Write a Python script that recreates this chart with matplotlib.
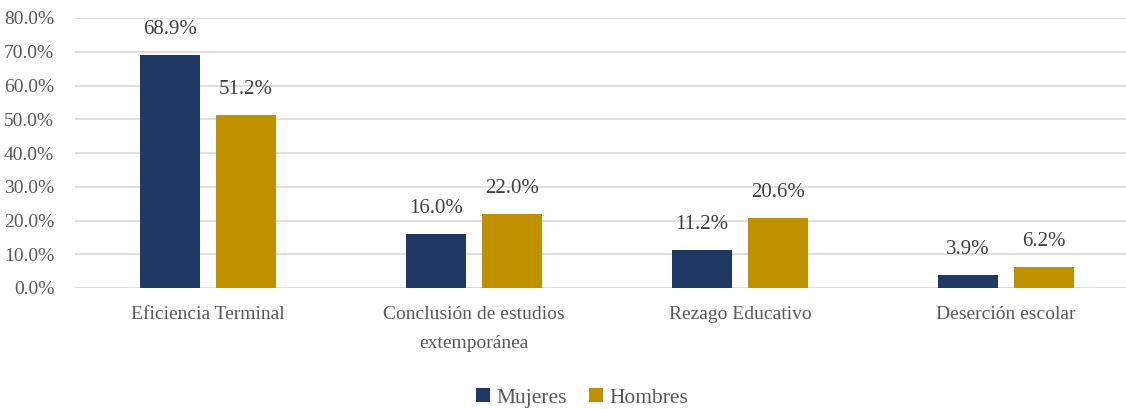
import matplotlib.pyplot as plt
import numpy as np

categories = ["Eficiencia Terminal", "Conclusión de estudios\nextemporánea",
              "Rezago Educativo", "Deserción escolar"]
mujeres = [68.9, 16.0, 11.2, 3.9]
hombres = [51.2, 22.0, 20.6, 6.2]

plt.rcParams['font.family'] = ['Liberation Serif', 'DejaVu Serif']

fig = plt.figure(figsize=(11.26, 4.09), dpi=100)
ax = fig.add_axes([75 / 1126, 121 / 409, 1064 / 1126, 270 / 409])

x = np.arange(len(categories))
w = 0.226
off = 0.143
b1 = ax.bar(x - off, mujeres, w, color='#203864', label='Mujeres', zorder=3)
b2 = ax.bar(x + off, hombres, w, color='#BF9000', label='Hombres', zorder=3)

# value labels above each bar
for bars, vals in ((b1, mujeres), (b2, hombres)):
    for rect, v in zip(bars, vals):
        ax.text(rect.get_x() + rect.get_width() / 2, v + 7.6, f"{v:.1f}%",
                ha='center', va='center', fontsize=15, color='#404040')

ax.set_xlim(-0.5, 3.5)
ax.set_ylim(0, 80)
ax.set_yticks(np.arange(0, 81, 10))
ax.set_yticklabels([f"{t:.1f}%" for t in np.arange(0, 81, 10)])
ax.set_xticks(x)
ax.set_xticklabels(categories, linespacing=1.9)
ax.tick_params(axis='both', length=0, labelsize=14, colors='#595959')
ax.tick_params(axis='x', pad=13)
ax.tick_params(axis='y', pad=15)
ax.grid(axis='y', color='#D9D9D9', linewidth=1.2, zorder=0)
for s in ax.spines.values():
    s.set_visible(False)

leg = fig.legend(handles=[b1, b2], loc='center', bbox_to_anchor=(582 / 1126, 1 - 398 / 409),
                 ncol=2, frameon=False, fontsize=15.5, handlelength=0.65, handleheight=0.65,
                 handletextpad=0.3, columnspacing=1.0)
for t in leg.get_texts():
    t.set_color('#595959')

fig.savefig('out.png', dpi=100)
